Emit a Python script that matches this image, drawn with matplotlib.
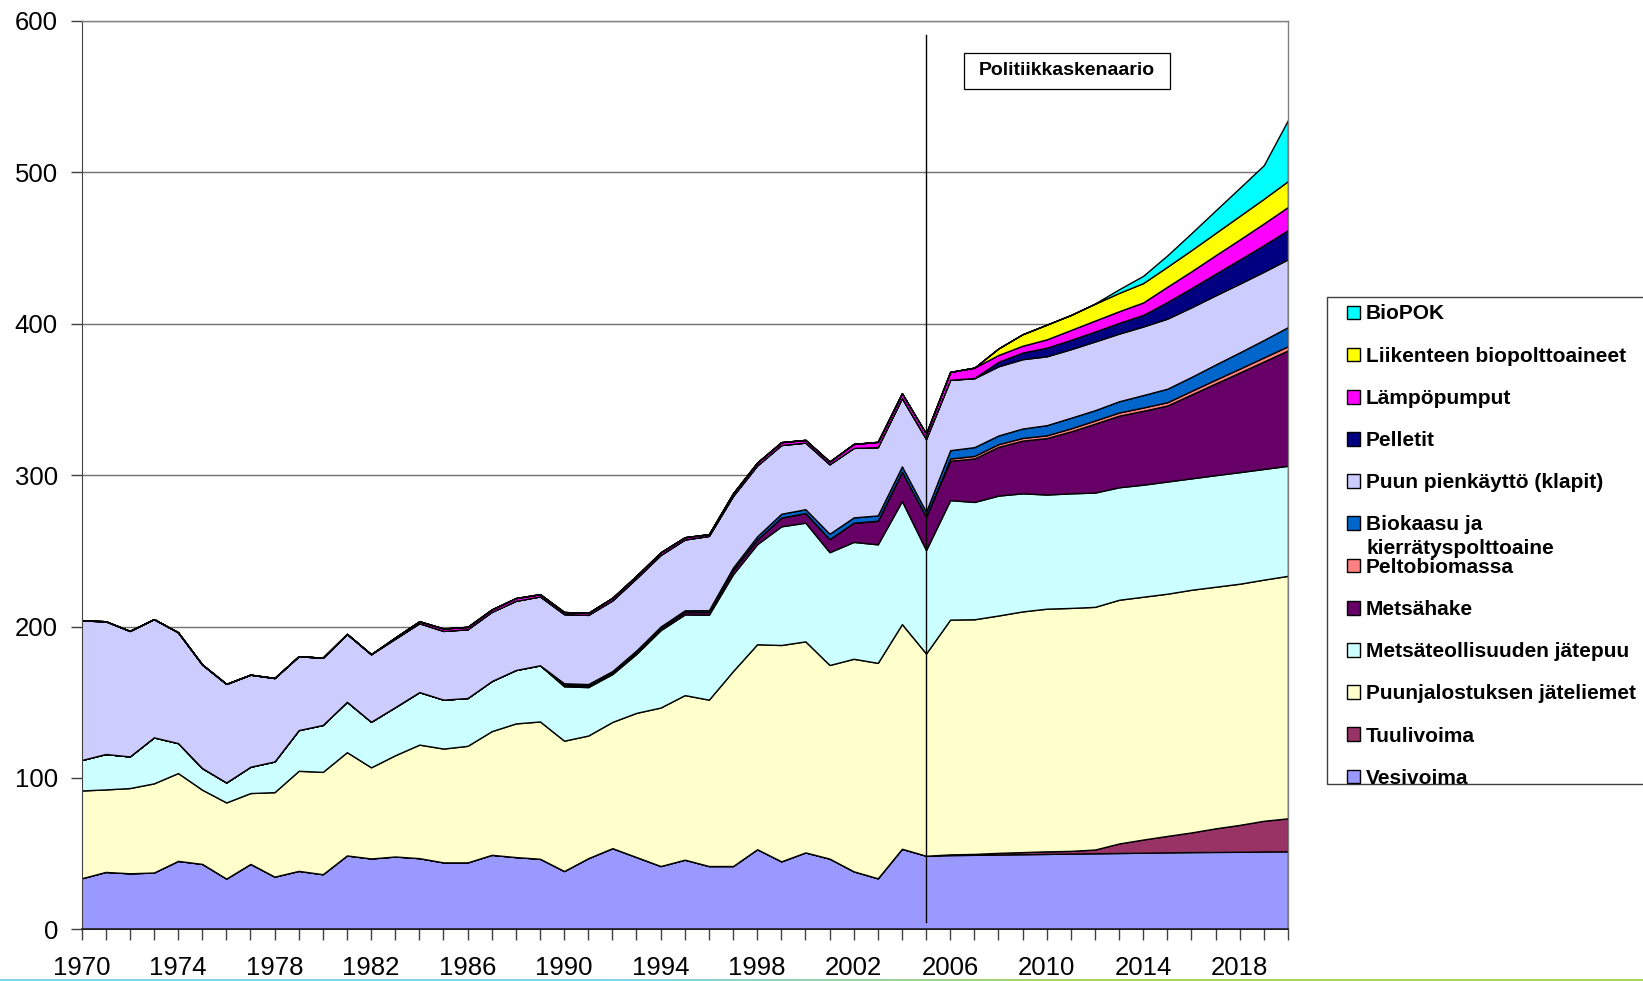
import matplotlib
matplotlib.use("Agg")
import matplotlib.pyplot as plt
from matplotlib.patches import Rectangle
from matplotlib.collections import LineCollection
import numpy as np

# ---------------- data ----------------
years = list(range(1970, 2021))
label_years = list(range(1970, 2019, 4))
y_ticks = [0, 100, 200, 300, 400, 500, 600]

vesivoima = [33.7, 37.9, 37.0, 37.5, 45.2, 43.2, 33.5, 43.2, 34.8, 38.6,
             36.4, 48.8, 46.8, 48.1, 47.0, 44.2, 44.2, 49.2, 47.7, 46.6,
             38.5, 47.0, 53.6, 47.7, 41.8, 46.0, 41.8, 41.8, 52.9, 44.9,
             50.8, 46.7, 38.3, 33.7, 53.2, 48.6, 49.0, 49.2, 49.4, 49.6,
             49.8, 50.0, 50.2, 50.4, 50.6, 50.8, 51.0, 51.1, 51.2, 51.4,
             51.5]
tuulivoima = [0, 0, 0, 0, 0, 0, 0, 0, 0, 0,
              0, 0, 0, 0, 0, 0, 0, 0, 0, 0,
              0, 0, 0, 0, 0, 0, 0, 0, 0, 0,
              0, 0, 0, 0, 0, 0, 0.5, 0.6, 1.1, 1.4,
              1.7, 1.8, 2.5, 6.3, 8.7, 10.9, 13.0, 15.6, 17.8, 20.3,
              21.8]
jateliemet = [58.0, 54.5, 56.3, 58.9, 58.0, 49.0, 50.3, 46.8, 55.8, 66.1,
              67.6, 68.2, 60.2, 66.9, 75.0, 75.2, 77.0, 81.7, 88.3, 90.7,
              86.1, 81.0, 83.4, 95.3, 104.7, 108.7, 109.9, 128.8, 135.4, 142.9,
              139.4, 127.9, 140.4, 142.3, 148.4, 133.6, 155.1, 155.0, 156.8, 159.0,
              160.3, 160.5, 160.3, 161.0, 160.4, 160.0, 160.3, 159.6, 159.3, 159.3,
              160.2]
jatepuu = [20.1, 23.4, 20.9, 30.4, 19.8, 14.3, 13.2, 17.4, 20.3, 26.9,
           31.0, 33.3, 30.1, 31.8, 34.7, 32.3, 31.6, 33.1, 35.3, 37.1,
           35.9, 32.0, 31.6, 39.0, 51.1, 53.3, 56.1, 63.9, 66.1, 78.4,
           78.4, 74.5, 77.2, 78.3, 81.3, 68.3, 78.9, 77.5, 79.2, 78.0,
           75.4, 75.7, 75.5, 74.3, 74.0, 74.1, 73.6, 73.7, 73.7, 73.1,
           72.7]
metsahake = [0, 0, 0, 0, 0, 0, 0, 0, 0, 0,
             0, 0, 0, 0, 0, 0, 0, 0, 0, 0,
             1.0, 1.0, 1.0, 1.3, 1.4, 1.7, 1.8, 3.0, 3.1, 5.8,
             6.4, 8.7, 12.7, 15.6, 19.4, 22.1, 26.0, 28.7, 32.2, 34.8,
             37.3, 40.9, 45.5, 47.3, 48.8, 50.2, 55.4, 60.6, 65.8, 71.0,
             76.2]
peltobiomassa = [0, 0, 0, 0, 0, 0, 0, 0, 0, 0,
                 0, 0, 0, 0, 0, 0, 0, 0, 0, 0,
                 0, 0, 0, 0, 0, 0, 0, 0, 0, 0,
                 0, 0, 0, 0, 0, 0, 1.5, 1.7, 1.8, 1.8,
                 1.8, 2.0, 2.1, 2.1, 2.2, 2.2, 2.4, 2.5, 2.6, 2.7,
                 2.8]
biokaasu = [0, 0, 0, 0, 0, 0, 0, 0, 0, 0,
            0, 0, 0, 0, 0, 0, 0, 0, 0, 0,
            1.0, 1.0, 1.0, 1.0, 1.0, 1.0, 1.2, 1.5, 2.1, 2.5,
            2.5, 3.5, 3.5, 3.5, 3.5, 3.2, 5.5, 5.8, 5.7, 6.2,
            6.7, 7.0, 6.8, 7.4, 8.2, 8.9, 9.2, 10.0, 10.7, 11.5,
            12.6]
klapit = [92.2, 87.7, 82.9, 78.1, 73.2, 68.4, 65.1, 60.8, 55.1, 48.8,
          44.4, 44.8, 44.6, 45.2, 45.5, 45.4, 45.4, 45.7, 45.7, 45.5,
          45.7, 45.7, 46.7, 47.7, 47.3, 46.8, 49.1, 47.3, 46.8, 45.4,
          44.0, 45.9, 45.9, 45.1, 45.1, 48.1, 46.5, 45.5, 45.7, 45.8,
          45.5, 45.3, 45.4, 44.7, 45.3, 46.3, 46.0, 45.7, 45.4, 45.1,
          44.8]
pelletit = [0, 0, 0, 0, 0, 0, 0, 0, 0, 0,
            0, 0, 0, 0, 0, 0, 0, 0, 0, 0,
            0, 0, 0, 0, 0, 0, 0, 0, 0, 0,
            0, 0, 0, 0, 0, 0, 0, 0.2, 3.0, 4.4,
            5.7, 6.2, 6.6, 7.1, 7.7, 11.0, 12.7, 14.3, 16.0, 17.6,
            19.3]
lampopumput = [0, 0, 0, 0, 0, 0, 0, 0, 0, 0,
               0, 0, 0, 0.8, 1.3, 1.6, 1.6, 1.6, 1.8, 1.5,
               1.4, 1.3, 1.7, 1.6, 1.7, 1.5, 1.1, 1.7, 1.9, 1.9,
               1.8, 1.8, 2.6, 3.5, 3.2, 3.5, 5.2, 6.8, 4.5, 4.5,
               5.5, 6.5, 7.2, 7.7, 8.2, 10.1, 11.1, 12.2, 13.2, 14.3,
               15.3]
liikenne = [0, 0, 0, 0, 0, 0, 0, 0, 0, 0,
            0, 0, 0, 0, 0, 0, 0, 0, 0, 0,
            0, 0, 0, 0, 0, 0, 0, 0, 0, 0,
            0, 0, 0, 0, 0, 0, 0, 0, 4.3, 7.6,
            9.7, 9.9, 11.1, 12.1, 12.8, 13.2, 14.0, 14.7, 15.6, 16.3,
            17.1]
biopok = [0, 0, 0, 0, 0, 0, 0, 0, 0, 0,
          0, 0, 0, 0, 0, 0, 0, 0, 0, 0,
          0, 0, 0, 0, 0, 0, 0, 0, 0, 0,
          0, 0, 0, 0, 0, 0, 0, 0, 0, 0,
          0, 0, 0.2, 2.4, 4.8, 7.5, 11.2, 14.9, 18.5, 22.2,
          40.3]

series_names = ["Vesivoima", "Tuulivoima", "Puunjalostuksen jäteliemet",
                "Metsäteollisuuden jätepuu", "Metsähake", "Peltobiomassa",
                "Biokaasu ja\nkierrätyspolttoaine", "Puun pienkäyttö (klapit)",
                "Pelletit", "Lämpöpumput", "Liikenteen biopolttoaineet", "BioPOK"]
series_values = [vesivoima, tuulivoima, jateliemet, jatepuu, metsahake,
                 peltobiomassa, biokaasu, klapit, pelletit, lampopumput,
                 liikenne, biopok]
series_colors = ["#9999FF", "#993366", "#FFFFCC", "#CCFFFF", "#660066",
                 "#FF8080", "#0066CC", "#CCCCFF", "#000080", "#FF00FF",
                 "#FFFF00", "#00FFFF"]

scenario_label = "Politiikkaskenaario"
scenario_year = 2005

# ---------------- figure ----------------
W, H = 1643, 981
plt.rcParams['font.family'] = ['Liberation Sans', 'DejaVu Sans']
fig = plt.figure(figsize=(W / 100, H / 100), dpi=100)

def fx(px):
    return px / W

def fy(py):
    return 1 - py / H

left, right, top, bottom = 81.5, 1288, 21, 929.3
ax = fig.add_axes([fx(left), fy(bottom), fx(right) - fx(left), fy(top) - fy(bottom)])

ax.stackplot(years, *series_values, colors=series_colors,
             edgecolor="black", linewidth=1.0)

ax.set_xlim(1970, 2020)
ax.set_ylim(0, 600)
ax.set_axisbelow(True)
ax.yaxis.grid(True, color="#707070", linewidth=1.0)
ax.set_yticks(y_ticks)
ax.set_yticklabels([str(v) for v in y_ticks])
ax.set_xticks(years)
ax.set_xticklabels([str(y) if y in label_years else "" for y in years])
ax.tick_params(axis="x", direction="out", length=8, width=1, color="#404040",
               labelsize=18.5, pad=11)
ax.tick_params(axis="y", direction="out", length=8, width=1, color="#404040",
               labelsize=18.5, pad=9)
for s in ["top", "right"]:
    ax.spines[s].set_color("#808080")
    ax.spines[s].set_linewidth(1.0)
ax.spines["left"].set_color("#404040")
ax.spines["bottom"].set_color("#202020")
ax.spines["bottom"].set_linewidth(1.2)

# scenario divider
ax.plot([scenario_year, scenario_year], [5, 591], color="black", linewidth=1.0,
        zorder=5)

# scenario text box
bx0, by0, bx1, by1 = 964, 52.5, 1170, 89.3
fig.patches.append(Rectangle((fx(bx0), fy(by1)), fx(bx1) - fx(bx0), fy(by0) - fy(by1),
                             transform=fig.transFigure, facecolor="white",
                             edgecolor="black", linewidth=0.9, zorder=10))
fig.text(fx((bx0 + bx1) / 2), fy((by0 + by1) / 2), scenario_label,
         ha="center", va="center", fontsize=14, fontweight="bold", zorder=11)

# legend (manual, box extends past right edge of figure)
lx0, ly0, ly1 = 1327, 296.5, 783.5
fig.patches.append(Rectangle((fx(lx0), fy(ly1)), fx(W + 20) - fx(lx0), fy(ly0) - fy(ly1),
                             transform=fig.transFigure, facecolor="white",
                             edgecolor="#404040", linewidth=1.0, zorder=10))
entry_y0 = 312.3
entry_dy = 42.2
sq = 13.6
for i, idx in enumerate(range(len(series_names) - 1, -1, -1)):
    cy = entry_y0 + i * entry_dy
    fig.patches.append(Rectangle((fx(1346.7), fy(cy + sq / 2)), fx(sq), sq / H,
                                 transform=fig.transFigure,
                                 facecolor=series_colors[idx], edgecolor="black",
                                 linewidth=1.0, zorder=11))
    for j, line in enumerate(series_names[idx].split("\n")):
        fig.text(fx(1366), fy(cy + 7.2 + j * 23.4), line, ha="left",
                 va="baseline", fontsize=15, fontweight="bold", zorder=12)

# thin decorative line at the bottom of the slide
xs = np.linspace(0, W, 200)
pts = np.array([[fx(x), fy(979.5)] for x in xs])
segs = np.stack([pts[:-1], pts[1:]], axis=1)
c0 = np.array(matplotlib.colors.to_rgb("#66ccee"))
c1 = np.array(matplotlib.colors.to_rgb("#99cc33"))
t = np.clip((xs[:-1] - 600) / 500, 0, 1)
cols = [tuple(c0 * (1 - a) + c1 * a) for a in t]
fig.add_artist(LineCollection(segs, colors=cols, linewidths=1.2,
                              transform=fig.transFigure))

fig.savefig("out.png", dpi=100)
